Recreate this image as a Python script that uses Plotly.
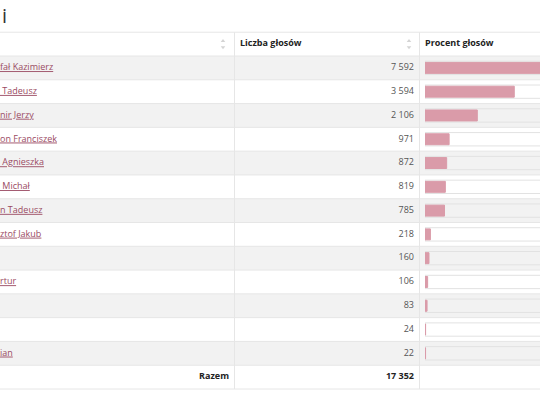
import plotly.graph_objects as go

# visible part of the table (left side is cut off in the reference)
names = ["fał Kazimierz", " Tadeusz", "nir Jerzy", "on Franciszek", " Agnieszka",
         " Michał", "n Tadeusz", "ztof Jakub", "", "rtur", "", "", "ian"]
votes = [7592, 3594, 2106, 971, 872, 819, 785, 218, 160, 106, 83, 24, 22]
headers = ["Liczba głosów", "Procent głosów"]
total_label = "Razem"
title_text = "i"

FONT = "Open Sans"
PINK = "#da9ba9"
LINE = "#e6e6e6"

total = sum(votes)
pct = [v / total * 100 for v in votes]
rows = list(range(1, len(votes) + 1))
total_row = len(votes) + 1


def fmt(n):
    return f"{n:,}".replace(",", " ")


fig = go.Figure()

# track behind each bar
fig.add_trace(go.Bar(
    x=[100] * len(votes), y=rows, orientation="h", xaxis="x2", yaxis="y",
    width=0.56, marker=dict(color="rgba(0,0,0,0)", line=dict(color="#e2e2e2", width=1),
                            cornerradius=2),
    hoverinfo="skip", showlegend=False,
))
# percentage bars
fig.add_trace(go.Bar(
    x=pct, y=rows, orientation="h", xaxis="x2", yaxis="y",
    width=0.46, marker=dict(color=PINK, line=dict(color=PINK, width=1), cornerradius=2),
    hovertemplate="%{x:.2f}%<extra></extra>", showlegend=False,
))

# names
fig.add_trace(go.Scatter(
    x=[0] * len(names), y=rows, mode="text", text=names, textposition="middle right",
    textfont=dict(family=FONT, size=9, color="#9a4a62", lineposition="under"),
    hoverinfo="skip", showlegend=False,
))
# vote counts
fig.add_trace(go.Scatter(
    x=[414] * len(votes), y=rows, mode="text", text=[fmt(v) for v in votes],
    textposition="middle left", textfont=dict(family=FONT, size=9, color="#555555"),
    hoverinfo="skip", showlegend=False,
))
# total row
fig.add_trace(go.Scatter(
    x=[229, 414], y=[total_row, total_row], mode="text",
    text=[f"<b>{total_label}</b>", f"<b>{fmt(total)}</b>"],
    textposition="middle left", textfont=dict(family=FONT, size=9, color="#222222"),
    hoverinfo="skip", showlegend=False,
))
# header
fig.add_trace(go.Scatter(
    x=[240, 425], y=[0, 0], mode="text", text=[f"<b>{h}</b>" for h in headers],
    textposition="middle right", textfont=dict(family=FONT, size=9, color="#222222"),
    hoverinfo="skip", showlegend=False,
))
# sort icons
fig.add_trace(go.Scatter(
    x=[223, 223, 409, 409], y=[-0.13, 0.13, -0.13, 0.13], mode="markers",
    marker=dict(symbol=["triangle-up", "triangle-down"] * 2, size=4, color="#d4d4d4"),
    hoverinfo="skip", showlegend=False,
))

shapes = []
for k in rows:
    if k % 2 == 1:
        shapes.append(dict(type="rect", xref="paper", yref="y", x0=0, x1=1,
                           y0=k - 0.5, y1=k + 0.5, fillcolor="#f2f2f2",
                           line=dict(width=0), layer="below"))
for k in range(-1, total_row + 1):
    shapes.append(dict(type="line", xref="paper", yref="y", x0=0, x1=1,
                       y0=k + 0.5, y1=k + 0.5, line=dict(color=LINE, width=1),
                       layer="below"))
for xv in (234.5, 419.5):
    shapes.append(dict(type="line", xref="x", yref="y", x0=xv, x1=xv,
                       y0=-0.5, y1=total_row + 0.5, line=dict(color=LINE, width=1),
                       layer="below"))

# rows: first data row starts at 56px, table ends at 389px
pitch = (389 - 56) / (total_row)
top = 0.5 - 56 / pitch
bottom = total_row + 0.5 + (407 - 389) / pitch

fig.update_layout(
    width=540, height=407,
    margin=dict(l=0, r=0, t=0, b=0),
    paper_bgcolor="white", plot_bgcolor="rgba(0,0,0,0)",
    barmode="overlay",
    font=dict(family=FONT, size=9, color="#333333"),
    xaxis=dict(range=[0, 540], domain=[0, 1], visible=False, fixedrange=True),
    xaxis2=dict(range=[0, 100 * 115 / 431], domain=[425 / 540, 1], anchor="y",
                visible=False, fixedrange=True),
    yaxis=dict(range=[bottom, top], visible=False, fixedrange=True),
    shapes=shapes,
    annotations=[dict(text=title_text, xref="paper", yref="paper", x=0, y=1 - 15 / 407,
                      xanchor="left", yanchor="middle", showarrow=False,
                      font=dict(family=FONT, size=20, color="#333333"))],
)

fig.write_html("out.html", config={"displayModeBar": False},
               post_script="document.body.style.margin='0';")
